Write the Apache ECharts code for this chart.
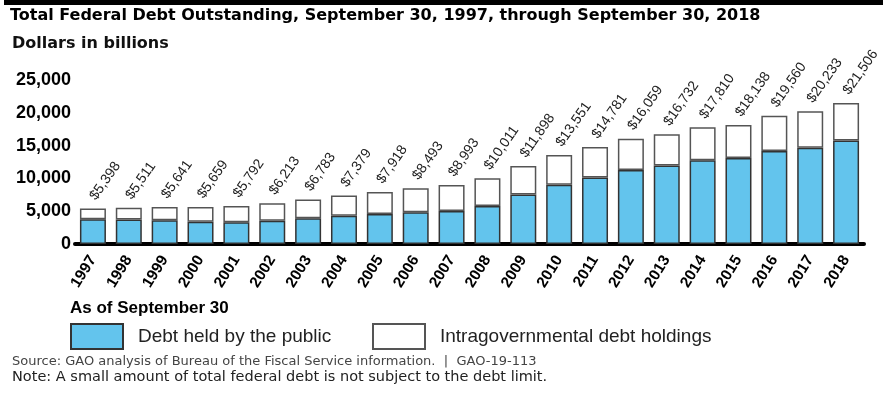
<!DOCTYPE html>
<html>
<head>
<meta charset="utf-8">
<script src="https://cdn.jsdelivr.net/npm/echarts@6/dist/echarts.min.js"></script>
<style>
  html, body { margin: 0; padding: 0; background: #fff; }
  #chart { width: 883px; height: 397px; }
</style>
</head>
<body>
<div id="chart"></div>
<script>
// Fiscal years (as of September 30)
const years = ['1997', '1998', '1999', '2000', '2001', '2002', '2003', '2004', '2005', '2006', '2007',
  '2008', '2009', '2010', '2011', '2012', '2013', '2014', '2015', '2016', '2017', '2018']
// Debt held by the public, $ billions
const publicDebt = [3772, 3721, 3633, 3410, 3320, 3540, 3913, 4296, 4592, 4829, 5035,
  5803, 7545, 9019, 10128, 11281, 11983, 12780, 13117, 14168, 14666, 15761]
// Intragovernmental debt holdings, $ billions
const intragovDebt = [1626, 1790, 2008, 2249, 2472, 2673, 2870, 3083, 3326, 3664, 3958,
  4208, 4353, 4532, 4653, 4778, 4749, 5030, 5021, 5392, 5567, 5745]
// Total labels printed above each bar
const totals = [5398, 5511, 5641, 5659, 5792, 6213, 6783, 7379, 7918, 8493, 8993,
  10011, 11898, 13551, 14781, 16059, 16732, 17810, 18138, 19560, 20233, 21506]
const yTicks = [0, 5000, 10000, 15000, 20000, 25000]

const BLUE = '#63c4ed'
const SANS = 'Liberation Sans'
const WIDE = 'DejaVu Sans'

const chart = echarts.init(document.getElementById('chart'))

const legendBase = {
  top: 323, padding: 0, icon: 'rect', itemWidth: 52, itemHeight: 25,
  textStyle: { fontFamily: SANS, fontSize: 19, color: '#222', padding: [0, 0, 0, 10] }
}

chart.setOption({
  animation: false,
  grid: { left: 75, right: 19, top: 80, bottom: 397 - 244 },
  xAxis: {
    type: 'category',
    data: years,
    axisLine: { lineStyle: { color: '#000', width: 4 } },
    axisTick: { show: false },
    axisLabel: { rotate: 58, margin: 13, fontFamily: SANS, fontSize: 15.5, fontWeight: 'bold', color: '#000' }
  },
  yAxis: {
    type: 'value',
    min: yTicks[0],
    max: yTicks[yTicks.length - 1],
    interval: 5000,
    axisLine: { show: false },
    axisTick: { show: false },
    splitLine: { show: false },
    axisLabel: {
      margin: 4, fontFamily: SANS, fontSize: 18, fontWeight: 'bold', color: '#000',
      formatter: v => v.toLocaleString('en-US')
    }
  },
  legend: [
    Object.assign({ data: ['Debt held by the public'], left: 70 }, legendBase),
    Object.assign({ data: ['Intragovernmental debt holdings'], left: 372 }, legendBase)
  ],
  series: [
    {
      name: 'Debt held by the public',
      type: 'bar',
      stack: 'debt',
      barWidth: 26,
      data: publicDebt,
      itemStyle: { color: BLUE, borderColor: '#333', borderWidth: 1.5 }
    },
    {
      name: 'Intragovernmental debt holdings',
      type: 'bar',
      stack: 'debt',
      barWidth: 26,
      data: intragovDebt,
      itemStyle: { color: '#fff', borderColor: '#555', borderWidth: 1.5 },
      label: {
        show: true,
        position: 'top',
        distance: 10,
        rotate: 55,
        align: 'left',
        verticalAlign: 'middle',
        fontFamily: SANS,
        fontSize: 14,
        color: '#222',
        formatter: p => '$' + totals[p.dataIndex].toLocaleString('en-US')
      }
    }
  ],
  graphic: [
    { type: 'rect', shape: { x: 4, y: 0, width: 879, height: 5 }, style: { fill: '#000' } },
    { type: 'text', x: 10, y: 16, style: { text: 'Total Federal Debt Outstanding, September 30, 1997, through September 30, 2018', fontFamily: WIDE, fontSize: 16, fontWeight: 'bold', fill: '#000', verticalAlign: 'middle' } },
    { type: 'text', x: 12, y: 44, style: { text: 'Dollars in billions', fontFamily: WIDE, fontSize: 16, fontWeight: 'bold', fill: '#111', verticalAlign: 'middle' } },
    { type: 'text', x: 70, y: 308, style: { text: 'As of September 30', fontFamily: SANS, fontSize: 17, fontWeight: 'bold', fill: '#000', verticalAlign: 'middle' } },
    { type: 'text', x: 12, y: 362, style: { text: 'Source: GAO analysis of Bureau of the Fiscal Service information.  |  GAO-19-113', fontFamily: WIDE, fontSize: 13, fill: '#444', verticalAlign: 'middle' } },
    { type: 'text', x: 12, y: 377, style: { text: 'Note: A small amount of total federal debt is not subject to the debt limit.', fontFamily: WIDE, fontSize: 14.5, fill: '#222', verticalAlign: 'middle' } }
  ]
})
</script>
</body>
</html>
